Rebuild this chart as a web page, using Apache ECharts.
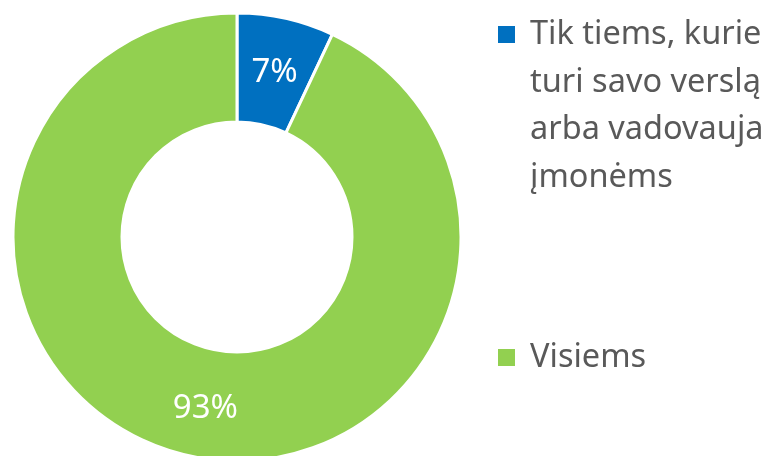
<!DOCTYPE html>
<html>
<head>
<meta charset="utf-8">
<script src="https://cdn.jsdelivr.net/npm/echarts@6/dist/echarts.min.js"></script>
<style>html,body{margin:0;padding:0;background:#fff}#c{width:773px;height:456px}</style>
</head>
<body>
<div id="c"></div>
<script>
var categories = ['Tik tiems, kurie\nturi savo verslą\narba vadovauja\nįmonėms', 'Visiems'];
var values = [7, 93];
var colors = ['#0070C0', '#92D050'];

var chart = echarts.init(document.getElementById('c'), null, {renderer: 'canvas'});
var font = '"Noto Sans", sans-serif';
var labelOffsets = [[0, 4], [6, 3]];
chart.setOption({
  animation: false,
  legend: [{
    data: [categories[0]],
    orient: 'vertical',
    left: 498, top: 11, padding: 0,
    itemWidth: 27, itemHeight: 190,
    icon: 'path://M0,15h17v17h-17z M27,0h0.01v0.01h-0.01z M0,190h0.01v-0.01h-0.01z',
    itemStyle: {borderWidth: 0},
    selectedMode: false,
    textStyle: {color: '#595959', fontSize: 32.5, fontFamily: font, lineHeight: 47.5}
  }, {
    data: [categories[1]],
    orient: 'vertical',
    left: 498, top: 341, padding: 0,
    itemWidth: 27, itemHeight: 17,
    icon: 'path://M0,0h17v17h-17z M27,17h0.01v-0.01h-0.01z',
    itemStyle: {borderWidth: 0},
    selectedMode: false,
    textStyle: {color: '#595959', fontSize: 32.5, fontFamily: font}
  }],
  series: [{
    type: 'pie',
    center: [237, 237],
    radius: [115, 224],
    startAngle: 90,
    clockwise: true,
    avoidLabelOverlap: false,
    emphasis: {disabled: true},
    itemStyle: {borderColor: '#fff', borderWidth: 3},
    label: {show: true, position: 'inside', formatter: '{d}%', color: '#fff', fontSize: 33, fontFamily: font},
    labelLine: {show: false},
    data: categories.map(function (c, i) {
      return {name: c, value: values[i], itemStyle: {color: colors[i]}, label: {offset: labelOffsets[i]}};
    })
  }]
});
</script>
</body>
</html>
